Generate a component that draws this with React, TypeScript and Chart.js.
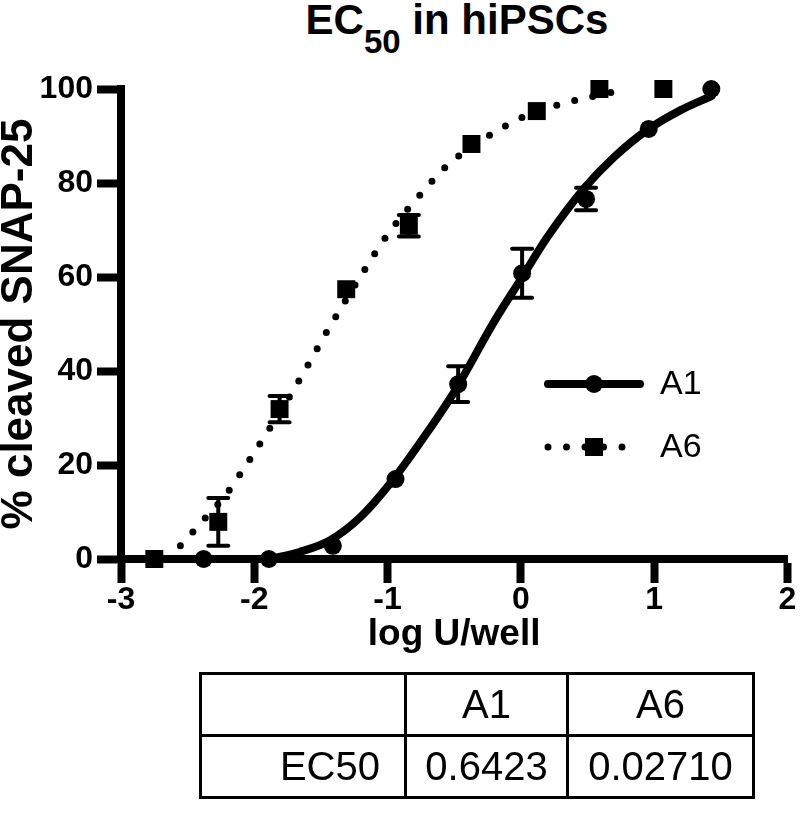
import React, { useEffect, useRef } from "react";
import { Chart, registerables } from "chart.js";
Chart.register(...registerables);

// ---- data ----
const seriesNames = ["A1", "A6"];

const a1LogDose = [-2.38, -1.89, -1.41, -0.94, -0.47, 0.01, 0.49, 0.96, 1.43];
const a1Mean = [0, 0, 2.8, 17, 37.2, 60.8, 76.6, 91.5, 100];
const a1Sem = [0, 0, 0, 0, 3.8, 5.2, 2.4, 0, 0];

const a6LogDose = [-2.75, -2.27, -1.81, -1.31, -0.84, -0.37, 0.12, 0.59, 1.07];
const a6Mean = [0, 7.9, 31.9, 57.4, 70.9, 88.3, 95.3, 100, 100];
const a6Sem = [0, 5.1, 2.8, 0, 2.3, 0, 0, 0, 0];

// fitted curves, points
const a1FitX = [-1.89, -1.66, -1.43, -1.2, -0.96, -0.7, -0.49, -0.2, 0.0, 0.2, 0.48, 0.7, 0.95, 1.2, 1.43];
const a1FitY = [0, 1.5, 4, 9, 16.8, 27, 36, 50.5, 59.5, 68.5, 79, 85.5, 91.3, 95.5, 98.5];

const a6FitX = [-2.65, -2.5, -2.4, -2.22, -2.07, -1.92, -1.7, -1.43, -1.21, -0.99, -0.73, -0.55, -0.22, 0.0, 0.23, 0.49, 0.75];
const a6FitY = [0, 4.5, 7.7, 13.4, 19.6, 26.2, 36.2, 49.6, 59.8, 69.4, 78.3, 83.8, 90.4, 93.8, 96.2, 98.1, 99.7];

const xTickValues = [-3, -2, -1, 0, 1, 2];
const yTickValues = [0, 20, 40, 60, 80, 100];

const tableHeader = ["", "A1", "A6"];
const tableRowLabel = "EC50";
const ec50Values = ["0.6423", "0.02710"];

const titleMain = "EC";
const titleSub = "50";
const titleRest = " in hiPSCs";
const xTitle = "log U/well";
const yTitle = "% cleaved SNAP-25";

// ---- styling ----
const FONT = "'Liberation Sans', Arial, sans-serif";

const pts = (xs: number[], ys: number[]) => xs.map((x, i) => ({ x, y: ys[i] }));

const errorBarPlugin = {
  id: "errorBars",
  afterDatasetsDraw(chart: any) {
    const ctx = chart.ctx;
    const xs = chart.scales.x;
    const ys = chart.scales.y;
    chart.data.datasets.forEach((ds: any) => {
      if (!ds.errors) return;
      ds.data.forEach((p: any, j: number) => {
        const e = ds.errors[j];
        if (!e) return;
        const px = xs.getPixelForValue(p.x);
        const t = ys.getPixelForValue(p.y + e);
        const b = ys.getPixelForValue(p.y - e);
        ctx.save();
        ctx.strokeStyle = "#000";
        ctx.lineWidth = 4;
        ctx.lineCap = "round";
        ctx.beginPath();
        ctx.moveTo(px, t);
        ctx.lineTo(px, b);
        ctx.moveTo(px - 10, t);
        ctx.lineTo(px + 10, t);
        ctx.moveTo(px - 10, b);
        ctx.lineTo(px + 10, b);
        ctx.stroke();
        ctx.restore();
      });
    });
  },
};

const legendPlugin = {
  id: "customLegend",
  afterDraw(chart: any) {
    const ctx = chart.ctx;
    const rows = [
      { name: seriesNames[0], y: 384, dash: [] as number[], width: 8, marker: "circle" },
      { name: seriesNames[1], y: 447, dash: [0, 18.5], width: 7, marker: "rect" },
    ];
    const x0 = 548, x1 = 640, xm = 594, xt = 660;
    rows.forEach((r) => {
      ctx.save();
      ctx.strokeStyle = "#000";
      ctx.fillStyle = "#000";
      ctx.lineWidth = r.width;
      ctx.lineCap = "round";
      ctx.setLineDash(r.dash);
      ctx.beginPath();
      ctx.moveTo(x0, r.y);
      ctx.lineTo(x1, r.y);
      ctx.stroke();
      ctx.setLineDash([]);
      if (r.marker === "circle") {
        ctx.beginPath();
        ctx.arc(xm, r.y, 9, 0, Math.PI * 2);
        ctx.fill();
      } else {
        ctx.fillRect(xm - 9, r.y - 9, 18, 18);
      }
      ctx.font = `normal 34px ${FONT}`;
      ctx.textBaseline = "middle";
      ctx.textAlign = "left";
      ctx.fillText(r.name, xt, r.y + 1);
      ctx.restore();
    });
  },
};

export default function App() {
  const ref = useRef<HTMLCanvasElement>(null);

  useEffect(() => {
    const canvas = ref.current;
    if (!canvas) return;
    const chart = new Chart(canvas, {
      type: "scatter",
      data: {
        datasets: [
          {
            label: seriesNames[0] + " fit",
            data: pts(a1FitX, a1FitY),
            showLine: true,
            pointRadius: 0,
            borderColor: "#000",
            borderWidth: 8,
            borderCapStyle: "round",
            borderJoinStyle: "round",
            cubicInterpolationMode: "monotone",
            clip: false,
          } as any,
          {
            label: seriesNames[1] + " fit",
            data: pts(a6FitX, a6FitY),
            showLine: true,
            pointRadius: 0,
            borderColor: "#000",
            borderWidth: 7,
            borderDash: [0, 18.5],
            borderCapStyle: "round",
            cubicInterpolationMode: "monotone",
            clip: false,
          } as any,
          {
            label: seriesNames[0],
            data: pts(a1LogDose, a1Mean),
            errors: a1Sem,
            showLine: false,
            pointStyle: "circle",
            pointRadius: 9,
            pointBorderWidth: 0,
            backgroundColor: "#000",
            borderColor: "#000",
            clip: false,
          } as any,
          {
            label: seriesNames[1],
            data: pts(a6LogDose, a6Mean),
            errors: a6Sem,
            showLine: false,
            pointStyle: "rect",
            pointRadius: 12.7,
            pointBorderWidth: 0,
            backgroundColor: "#000",
            borderColor: "#000",
            clip: false,
          } as any,
        ],
      },
      options: {
        responsive: false,
        animation: false,
        events: [],
        layout: { padding: { left: 0, top: 89, right: 9, bottom: 0 } },
        plugins: {
          legend: { display: false },
          tooltip: { enabled: false },
          title: { display: false },
        },
        scales: {
          x: {
            type: "linear",
            min: -3,
            max: 2,
            afterBuildTicks: (s: any) => {
              s.ticks = xTickValues.map((v) => ({ value: v }));
            },
            afterFit: (s: any) => {
              s.height = 131;
              s.paddingLeft = 0;
              s.paddingRight = 0;
            },
            border: { display: true, width: 8, color: "#000" },
            grid: { display: true, drawOnChartArea: false, drawTicks: true, tickLength: 24, tickWidth: 8, tickColor: "#000" },
            ticks: {
              color: "#000",
              padding: -2,
              font: { family: FONT, size: 32, weight: "bold" },
              callback: (v: any) => String(v),
            },
            title: {
              display: true,
              text: xTitle,
              color: "#000",
              font: { family: FONT, size: 37, weight: "bold", lineHeight: 1 },
              padding: { top: 0, bottom: 37 },
            },
          },
          y: {
            type: "linear",
            min: 0,
            max: 100,
            afterBuildTicks: (s: any) => {
              s.ticks = yTickValues.map((v) => ({ value: v }));
            },
            afterFit: (s: any) => {
              s.width = 121;
              s.paddingTop = 0;
              s.paddingBottom = 0;
            },
            border: { display: true, width: 8, color: "#000" },
            grid: { display: true, drawOnChartArea: false, drawTicks: true, tickLength: 24, tickWidth: 8, tickColor: "#000" },
            ticks: {
              color: "#000",
              padding: 4,
              font: { family: FONT, size: 32, weight: "bold" },
              callback: (v: any) => String(v),
            },
            title: {
              display: true,
              text: yTitle,
              color: "#000",
              font: { family: FONT, size: 44, weight: "bold", lineHeight: 1 },
              padding: { top: -2, bottom: 0 },
            },
          },
        },
      } as any,
      plugins: [errorBarPlugin, legendPlugin],
    });
    return () => chart.destroy();
  }, []);

  const cellBase: React.CSSProperties = {
    border: "3px solid #000",
    padding: 0,
    textAlign: "center",
    verticalAlign: "middle",
  };

  return (
    <div style={{ position: "absolute", left: 0, top: 0, width: 800, height: 813, background: "#fff", overflow: "hidden" }}>
      <div
        style={{
          position: "absolute",
          left: 457,
          top: 0,
          transform: "translateX(-50%)",
          fontFamily: FONT,
          fontWeight: "bold",
          fontSize: 42,
          lineHeight: "40px",
          whiteSpace: "nowrap",
          color: "#000",
        }}
      >
        {titleMain}
        <sub style={{ fontSize: 33, verticalAlign: "-19px", lineHeight: 0 }}>{titleSub}</sub>
        {titleRest}
      </div>
      <div style={{ position: "absolute", left: 0, top: 0, width: 800, height: 690 }}>
        <canvas ref={ref} width={800} height={690} style={{ display: "block" }} />
      </div>
      <table
        style={{
          position: "absolute",
          left: 199,
          top: 672,
          width: 553,
          height: 124,
          borderCollapse: "collapse",
          fontFamily: FONT,
          fontSize: 40,
          color: "#000",
          tableLayout: "fixed",
        }}
      >
        <colgroup>
          <col style={{ width: 205 }} />
          <col style={{ width: 162 }} />
          <col style={{ width: 186 }} />
        </colgroup>
        <tbody>
          <tr style={{ height: 62 }}>
            {tableHeader.map((h, i) => (
              <td key={i} style={cellBase}>{h}</td>
            ))}
          </tr>
          <tr style={{ height: 62 }}>
            <td style={{ ...cellBase, textAlign: "right", paddingRight: 24 }}>{tableRowLabel}</td>
            {ec50Values.map((v, i) => (
              <td key={i} style={cellBase}>{v}</td>
            ))}
          </tr>
        </tbody>
      </table>
    </div>
  );
}
